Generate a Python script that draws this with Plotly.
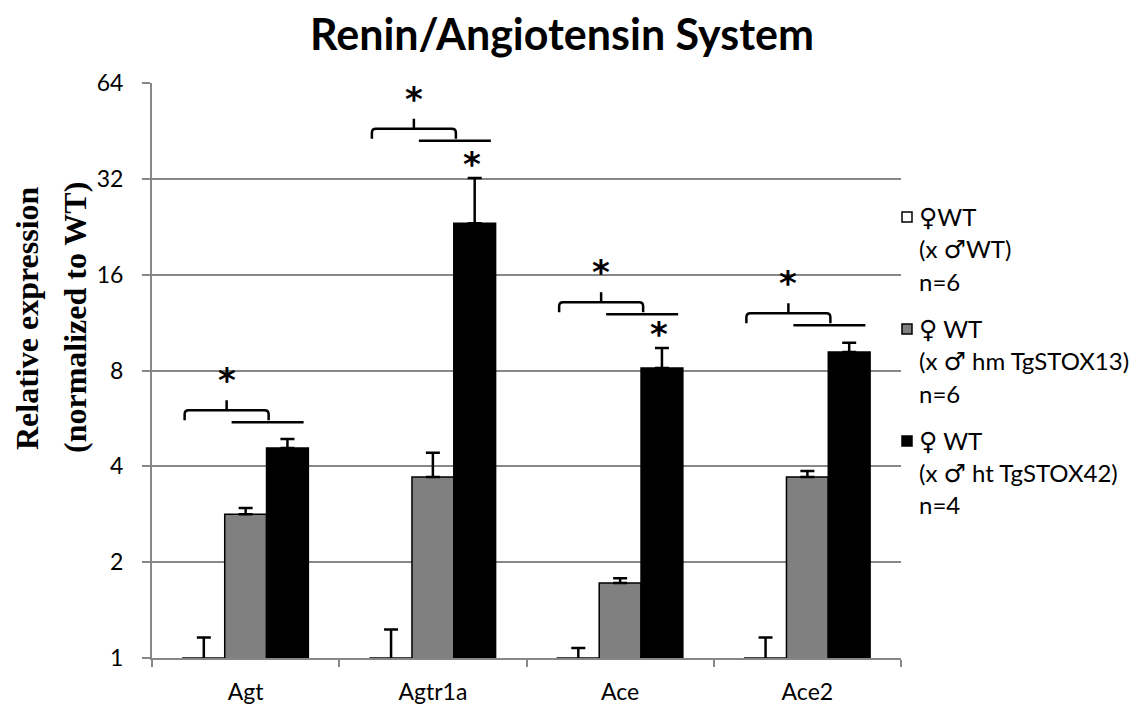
import math
import plotly.graph_objects as go

# ---- data ----
genes = ["Agt", "Agtr1a", "Ace", "Ace2"]

wt_vals = [1.0, 1.0, 1.0, 1.0]
wt_err = [0.16, 0.23, 0.075, 0.16]

hm_vals = [2.83, 3.70, 1.72, 3.70]
hm_err = [0.13, 0.71, 0.06, 0.17]

ht_vals = [4.57, 23.2, 8.15, 9.14]
ht_err = [0.30, 9.0, 1.26, 0.63]

group_names = ["♀WT<br>(x ♂WT)<br>n=6",
               "♀ WT<br>(x ♂ hm TgSTOX13)<br>n=6",
               "♀ WT<br>(x ♂ ht TgSTOX42)<br>n=4"]
group_colors = ["white", "#808080", "black"]

# brace level (expression units) for the "*" over WT-vs-transgenic comparison
brace_level = [6.0, 46.0, 13.1, 12.1]
# extra "*" above the ht bar
star_on_ht = [False, True, True, False]

# ---- geometry helpers (page pixels; the html body adds an 8px margin) ----
OFF = 8
W, H = 1148 - OFF, 708 - OFF
L, R, T, B = 152 - OFF, 901 - OFF, 83 - OFF, 658 - OFF
CAT_PX = (R - L) / 4.0
PLOT_H = B - T
YMAX = 64


def px_x(px):
    # px given in page pixels
    return (px - OFF - L) / (R - L)


def px_y(py):
    return (B - (py - OFF)) / PLOT_H


def val_to_paper(v):
    return math.log2(v) / math.log2(YMAX)


def symbols(s):
    # gender signs from DejaVu, a bit larger than the text
    for ch in "♀♂":
        s = s.replace(ch, f'<span style="font-family:DejaVu Sans;font-size:25px">{ch}</span>')
    return s


fig = go.Figure()
for vals, err, col in [(wt_vals, wt_err, group_colors[0]),
                       (hm_vals, hm_err, group_colors[1]),
                       (ht_vals, ht_err, group_colors[2])]:
    # WT bars sit on the axis: push the lower error end below zero so no foot is drawn
    minus = [1.0] * len(vals) if col == "white" else [0.0] * len(vals)
    fig.add_trace(go.Bar(
        x=genes, y=vals,
        marker=dict(color=col, line=dict(color="black", width=1.5)),
        error_y=dict(type="data", array=err, arrayminus=minus, symmetric=False,
                     color="black", thickness=2.5, width=7),
        showlegend=False,
    ))

shapes = []
annotations = []
dxu = 1.0 / CAT_PX     # category units per pixel
dyu = 1.0 / PLOT_H     # paper units per pixel
star_font = dict(family="DejaVu Sans", size=34, color="black")
for i, lvl in enumerate(brace_level):
    yb = val_to_paper(lvl)
    xl, xr, xm = i - 61 * dxu, i + 23 * dxu, i - 19 * dxu
    c = 4
    path = (f"M{xl},{yb - 10 * dyu} L{xl},{yb - c * dyu} Q{xl},{yb} {xl + c * dxu},{yb} "
            f"L{xr - c * dxu},{yb} Q{xr},{yb} {xr},{yb - c * dyu} L{xr},{yb - 10 * dyu} "
            f"M{xm},{yb} L{xm},{yb + 10 * dyu}")
    shapes.append(dict(type="path", xref="x", yref="paper", path=path,
                       line=dict(color="black", width=2.5)))
    yl = yb - 12 * dyu
    shapes.append(dict(type="line", xref="x", yref="paper",
                       x0=i - 14 * dxu, x1=i + 58 * dxu, y0=yl, y1=yl,
                       line=dict(color="black", width=2.5)))
    annotations.append(dict(x=xm, y=yb + 30 * dyu, xref="x", yref="paper",
                            text="<b>*</b>", showarrow=False, yanchor="middle",
                            font=star_font))
    if star_on_ht[i]:
        top = val_to_paper(ht_vals[i] + ht_err[i])
        annotations.append(dict(x=i + 0.21, y=top + 14 * dyu, xref="x", yref="paper",
                                text="<b>*</b>", showarrow=False, yanchor="middle",
                                font=star_font))

# legend drawn by hand
item_y = [217, 329, 441]
for name, col, iy in zip(group_names, group_colors, item_y):
    shapes.append(dict(type="rect", xref="paper", yref="paper",
                       x0=px_x(902), x1=px_x(912), y0=px_y(iy + 5), y1=px_y(iy - 5),
                       fillcolor=col, line=dict(color="black", width=1.5)))
    for k, line in enumerate(name.split("<br>")):
        annotations.append(dict(x=px_x(917), y=px_y(iy + k * 32), xref="paper", yref="paper",
                                text=symbols(line), showarrow=False, xanchor="left",
                                yanchor="middle",
                                font=dict(family="Lato", size=24, color="black")))

# y-axis title, two lines placed separately
for txt, xp in [("Relative expression", 27), ("(normalized to WT)", 75)]:
    annotations.append(dict(x=px_x(xp), y=px_y(318), xref="paper", yref="paper",
                            text=f"<b>{txt}</b>", showarrow=False, textangle=-90,
                            xanchor="center", yanchor="middle",
                            font=dict(family="Liberation Serif", size=32, color="black")))

fig.update_layout(
    width=W, height=H,
    margin=dict(l=L, r=W - R, t=T, b=H - B, autoexpand=False),
    paper_bgcolor="white", plot_bgcolor="white",
    barmode="group", bargap=0.33, bargroupgap=0,
    title=dict(text="<b>Renin/Angiotensin System</b>", x=(562 - OFF) / W,
               xanchor="center", y=1 - (35 - OFF) / H, yanchor="middle", yref="container",
               font=dict(family="Lato", size=43, color="black")),
    shapes=shapes, annotations=annotations,
    font=dict(family="Lato", size=23, color="black"),
)
fig.update_xaxes(type="category", range=[-0.5, 3.5], showline=True, linecolor="#878787",
                 linewidth=2, ticks="outside", tickson="boundaries", ticklen=7,
                 tickcolor="#878787", tickwidth=2, ticklabelstandoff=12, automargin=False,
                 tickfont=dict(family="Lato", size=23, color="black"))
fig.update_yaxes(type="log", range=[0, math.log10(YMAX)],
                 tickvals=[1, 2, 4, 8, 16, 32, 64], ticktext=["1", "2", "4", "8", "16", "32", "64"],
                 showgrid=True, gridcolor="#878787", gridwidth=2,
                 showline=True, linecolor="#878787", linewidth=2,
                 ticks="outside", ticklen=8, tickcolor="#878787", tickwidth=2, automargin=False,
                 ticklabelstandoff=14, tickfont=dict(family="Lato", size=23, color="black"))

fig.write_html("out.html")
